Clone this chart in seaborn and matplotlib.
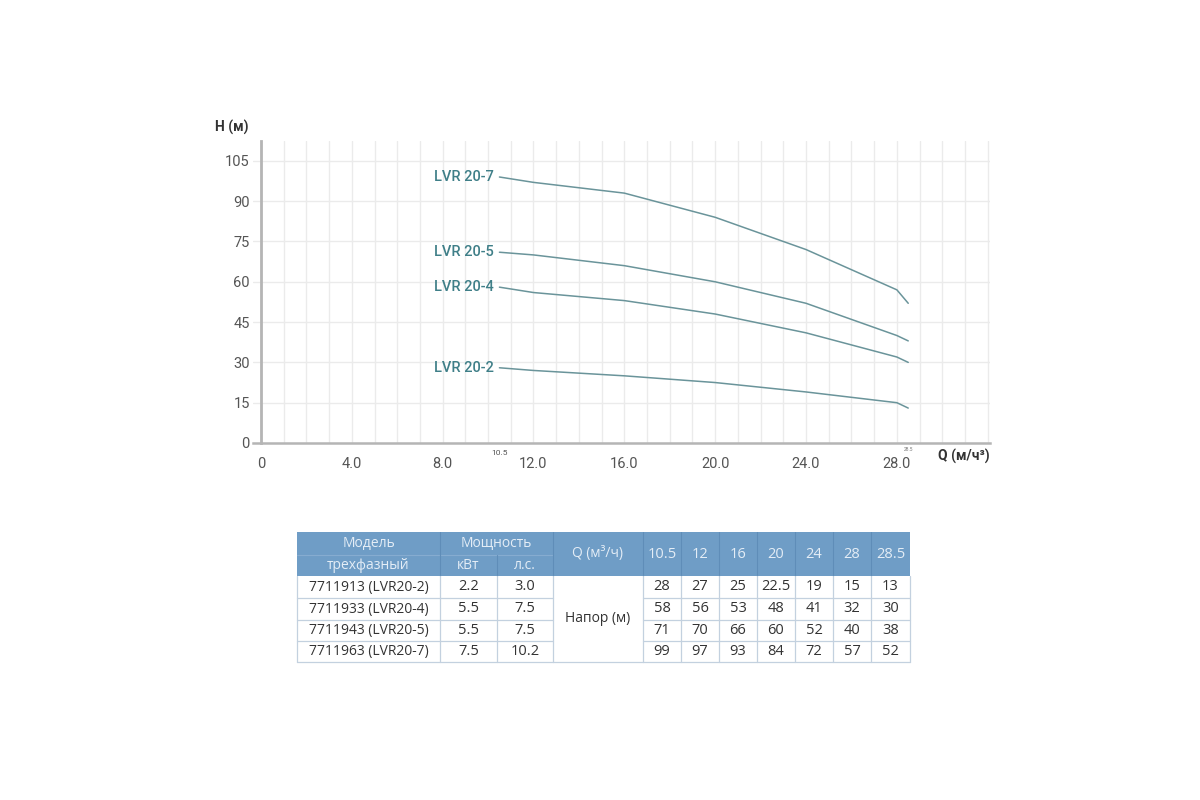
import pandas as pd
import numpy as np
import matplotlib
matplotlib.use('Agg')
import matplotlib.pyplot as plt
from matplotlib.patches import Rectangle
import seaborn as sns

q_values = [10.5, 12, 16, 20, 24, 28, 28.5]
models = ['LVR 20-2', 'LVR 20-4', 'LVR 20-5', 'LVR 20-7']
head_lvr20_2 = [28, 27, 25, 22.5, 19, 15, 13]
head_lvr20_4 = [58, 56, 53, 48, 41, 32, 30]
head_lvr20_5 = [71, 70, 66, 60, 52, 40, 38]
head_lvr20_7 = [99, 97, 93, 84, 72, 57, 52]
article_nums = ['7711913 (LVR20-2)', '7711933 (LVR20-4)', '7711943 (LVR20-5)', '7711963 (LVR20-7)']
power_kw = ['2.2', '5.5', '5.5', '7.5']
power_hp = ['3.0', '7.5', '7.5', '10.2']
q_labels = ['10.5', '12', '16', '20', '24', '28', '28.5']
x_ticks = [0, 4, 8, 12, 16, 20, 24, 28]
x_tick_labels = ['0', '4.0', '8.0', '12.0', '16.0', '20.0', '24.0', '28.0']
y_ticks = [0, 15, 30, 45, 60, 75, 90, 105]

heads = [head_lvr20_2, head_lvr20_4, head_lvr20_5, head_lvr20_7]

rows = []
for m, h in zip(models, heads):
    for q, v in zip(q_values, h):
        rows.append({'Q': q, 'H': v, 'Modell': m})
df = pd.DataFrame(rows)

sns.set_style('white')
plt.rcParams['font.family'] = ['Roboto', 'DejaVu Sans']

line_col = '#6a949a'
label_col = '#3f7f88'
grid_col = '#ebebeb'
axis_col = '#b5b5b5'

fig = plt.figure(figsize=(12, 8), dpi=100)
ax = fig.add_axes([253 / 1200, 1 - 443 / 800, (990 - 253) / 1200, (443 - 141) / 800])

sns.lineplot(data=df, x='Q', y='H', hue='Modell', palette=[line_col] * 4,
             linewidth=1.1, legend=False, ax=ax)

ax.set_xlim(-0.35, 32.1)
ax.set_ylim(0, 112.4)
ax.set_xticks(x_ticks)
ax.set_xticklabels(x_tick_labels)
ax.set_yticks(y_ticks)
ax.set_xticks(np.arange(1, 33, 1), minor=True)
ax.grid(True, which='both', axis='x', color=grid_col, linewidth=1)
ax.grid(True, which='major', axis='y', color=grid_col, linewidth=1)
ax.set_axisbelow(True)
for s in ['top', 'right']:
    ax.spines[s].set_visible(False)
ax.spines['left'].set_position(('data', 0))
ax.spines['left'].set_color(axis_col)
ax.spines['left'].set_linewidth(2)
ax.spines['bottom'].set_color(axis_col)
ax.spines['bottom'].set_linewidth(1.8)
ax.tick_params(axis='both', which='both', length=0, labelsize=10.5, colors='#555555')
ax.tick_params(axis='x', pad=10)
ax.tick_params(axis='y', pad=8)
ax.set_xlabel('')
ax.set_ylabel('')

# Kurvenbeschriftungen
for m, h in zip(models, heads):
    ax.text(q_values[0] - 0.25, h[0], m, ha='right', va='center',
            fontsize=10.5, color=label_col, fontweight='medium')

ax.text(-1.3, 114.5, 'H (м)', ha='center', va='bottom', fontsize=10,
        fontweight='bold', color='#333333', clip_on=False)
ax.text(32.1, -5.2, 'Q (м/ч³)', ha='right', va='center', fontsize=10,
        fontweight='bold', color='#333333', clip_on=False)
ax.text(q_values[0], -3.6, q_labels[0], ha='center', va='center', fontsize=6,
        color='#555555', clip_on=False)
ax.text(q_values[-1], -2.6, q_labels[-1], ha='center', va='center', fontsize=3.5,
        color='#777777', clip_on=False)

# Tabelle
tx = fig.add_axes([0, 0, 1, 1])
tx.set_xlim(0, 1200)
tx.set_ylim(800, 0)
tx.axis('off')

head_col = '#6f9dc6'
head_txt = '#e4edf6'
head_line = '#5f8db8'
cell_line = '#c3d1df'
tab_font = ['Open Sans', 'DejaVu Sans']

col_x = [297, 440, 497, 553, 643, 681, 719, 757, 795, 833, 871, 910]
row_y = [532, 555, 576, 598, 620, 641, 662]

tx.add_patch(Rectangle((col_x[0], row_y[0]), col_x[-1] - col_x[0], row_y[2] - row_y[0],
                       facecolor=head_col, edgecolor='none'))
# Linien Kopfbereich
tx.plot([col_x[0], col_x[3]], [row_y[1], row_y[1]], color='#86acd0', lw=0.8)
for xi in [col_x[1], col_x[3], col_x[4]] + col_x[5:11]:
    tx.plot([xi, xi], [row_y[0], row_y[2]], color=head_line, lw=0.8)
tx.plot([col_x[2], col_x[2]], [row_y[1], row_y[2]], color=head_line, lw=0.8)

# Linien Datenbereich
for yi in row_y[3:]:
    tx.plot([col_x[0], col_x[3]], [yi, yi], color=cell_line, lw=0.9)
    tx.plot([col_x[4], col_x[-1]], [yi, yi], color=cell_line, lw=0.9)
tx.plot([col_x[3], col_x[4]], [row_y[-1], row_y[-1]], color=cell_line, lw=0.9)
for xi in col_x:
    tx.plot([xi, xi], [row_y[2], row_y[-1]], color=cell_line, lw=0.9)

def ctext(x0, x1, y0, y1, s, col, fs=10.5):
    tx.text((x0 + x1) / 2, (y0 + y1) / 2, s, ha='center', va='center',
            fontsize=fs, color=col, family=tab_font)

ctext(col_x[0], col_x[1], row_y[0], row_y[1], 'Модель', head_txt, fs=10)
ctext(col_x[0], col_x[1], row_y[1], row_y[2], 'трехфазный', head_txt, fs=10)
ctext(col_x[1], col_x[3], row_y[0], row_y[1], 'Мощность', head_txt, fs=10)
ctext(col_x[1], col_x[2], row_y[1], row_y[2], 'кВт', head_txt, fs=10)
ctext(col_x[2], col_x[3], row_y[1], row_y[2], 'л.с.', head_txt, fs=10)
ctext(col_x[3], col_x[4], row_y[0], row_y[2], 'Q (м³/ч)', head_txt, fs=10)
for i, ql in enumerate(q_labels):
    ctext(col_x[4 + i], col_x[5 + i], row_y[0], row_y[2], ql, head_txt, fs=10.5)

dark = '#333333'
for r in range(4):
    y0, y1 = row_y[2 + r], row_y[3 + r]
    ctext(col_x[0], col_x[1], y0, y1, article_nums[r], dark, fs=10)
    ctext(col_x[1], col_x[2], y0, y1, power_kw[r], dark)
    ctext(col_x[2], col_x[3], y0, y1, power_hp[r], dark)
    for i in range(7):
        v = heads[r][i]
        s = ('%g' % v)
        ctext(col_x[4 + i], col_x[5 + i], y0, y1, s, dark)
ctext(col_x[3], col_x[4], row_y[2], row_y[-1], 'Напор (м)', dark, fs=10)

fig.savefig('out.png', dpi=100, facecolor='white')
